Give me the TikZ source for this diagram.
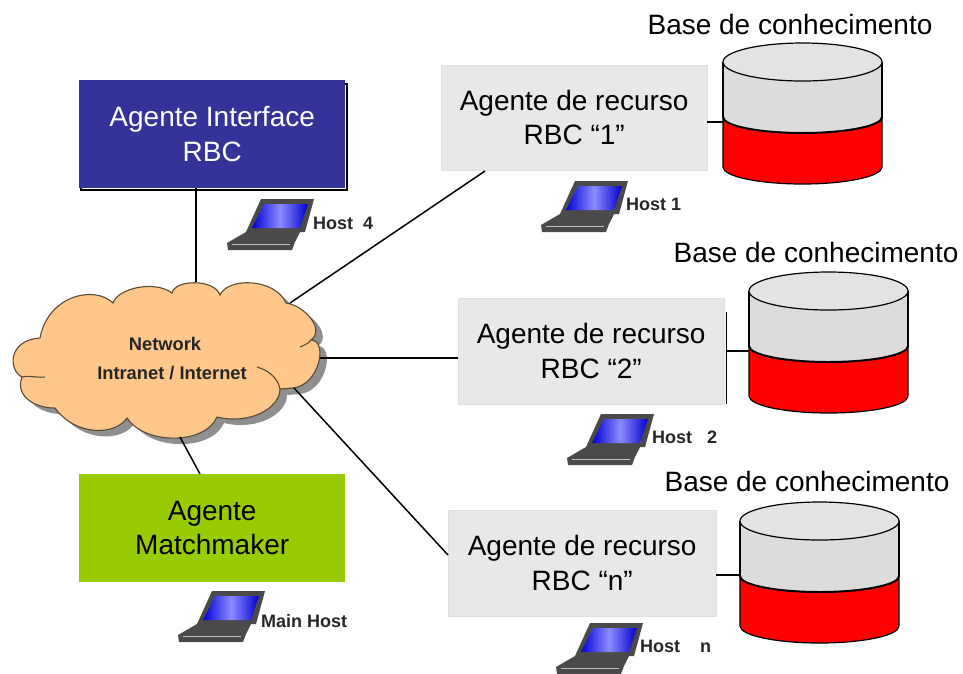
\documentclass[tikz,border=0pt]{standalone}
\usepackage{fontspec}
\setmainfont{Liberation Sans}

\definecolor{interfaceblue}{HTML}{333399}
\definecolor{matchgreen}{HTML}{99CC00}
\definecolor{agentgray}{HTML}{E8E8E8}
\definecolor{cloudorange}{HTML}{FFC78A}
\definecolor{cloudedge}{HTML}{5A4A38}
\definecolor{dbgray}{HTML}{DCDCDC}
\definecolor{dbtop}{HTML}{E3E3E3}
\definecolor{laptopdark}{HTML}{4A4A4A}

\newcommand{\cloudpath}{(40,338)
    .. controls (48,295) and (95,285) .. (113,303)
    .. controls (118,288) and (155,280) .. (172,293)
    .. controls (175,279) and (215,279) .. (220,295)
    .. controls (228,277) and (275,278) .. (286,303)
    .. controls (306,306) and (325,330) .. (311,340)
    .. controls (328,340) and (320,385) .. (293,388)
    -- (280,389)
    .. controls (280,408) and (250,425) .. (217,417)
    .. controls (205,445) and (145,445) .. (127,418)
    .. controls (115,436) and (75,436) .. (55,408)
    .. controls (33,408) and (15,395) .. (22,377)
    .. controls (8,370) and (8,340) .. (40,338) -- cycle}

\tikzset{
    agentbox/.style = {minimum width = 266pt, minimum height = 106pt, inner sep = 0pt, anchor = north west,
        align = center, font = \fontsize{28}{34.5}\selectfont},
    recursobox/.style = {agentbox, fill = agentgray, draw = gray!25},
    baselabel/.style = {font = \fontsize{28}{33}\selectfont},
    hostlabel/.style = {anchor = west, inner sep = 0pt, text = black!85, font = \fontsize{18}{20}\bfseries\selectfont},
    netlabel/.style = {text = black!85, font = \fontsize{18.3}{20}\bfseries\selectfont},
    link/.style = {line width = 1.5pt},
    laptop/.pic = {
        \fill [laptopdark] (41,29) -- (94,29) -- (85,62) -- (26,62) -- cycle;
        \shade [left color = blue!85!black, right color = blue!80!black, middle color = blue!45] (44,34) -- (88,34) -- (80,58) -- (32,58) -- cycle;
        \fill [laptopdark] (7,73) -- (26,62) -- (80,62) -- (75,72) -- (72,80) -- (8,80) -- cycle;
        \draw [black!70, line width = 0.8pt] (20,69) -- (72,69);
        \draw [gray!50, line width = 1pt] (12,74) -- (70,74);
    },
    database/.pic = {
        % Lower part first, upper part on top of it
        \draw [fill = red, line width = 1.2pt] (0,55) -- (0,105) arc [start angle = 180, end angle = 0, x radius = 79.5, y radius = 17] -- (159,55) -- cycle;
        \fill [dbgray] (0,0) rectangle (159,55);
        \fill [dbgray] (0,55) arc [start angle = 180, end angle = 0, x radius = 79.5, y radius = 16] -- cycle;
        \draw [line width = 1.2pt] (0,55) -- (0,0);
        \draw [line width = 1.2pt] (159,55) -- (159,0);
        \draw [line width = 2pt] (0,55) arc [start angle = 180, end angle = 0, x radius = 79.5, y radius = 16];
        \draw [fill = dbtop, line width = 1.2pt] (79.5,0) ellipse [x radius = 79.5, y radius = 19];
    }
}

\begin{document}
\begin{tikzpicture}[x = 1pt, y = -1pt]
    \useasboundingbox (0,0) rectangle (963,673);

    % Cloud with its shadow
    \fill [black!55, opacity = 0.8, shift = {(7,6)}] \cloudpath;
    \draw [fill = cloudorange, draw = cloudedge, line width = 1.1pt] \cloudpath;
    \draw [cloudedge, line width = 1.1pt] (22,377) .. controls (28,375) and (36,378) .. (45,377);
    \draw [cloudedge, line width = 1.1pt] (311,340) .. controls (309,343) and (305,345) .. (300,347);
    \draw [cloudedge, line width = 1.1pt] (257,367) .. controls (268,370) and (278,378) .. (280,389);
    \node [netlabel] (network) at (165,344) {Network};
    \node [netlabel] (intranet) at (172,373) {Intranet / Internet};

    % Points of the cloud where the links end
    \coordinate (CloudTop) at (196,282);
    \coordinate (CloudNE) at (290,303);
    \coordinate (CloudE) at (320,358);
    \coordinate (CloudSE) at (294,388);
    \coordinate (CloudS) at (180,437);

    % Agents
    \draw [link] (81,84) rectangle (347,190);
    \node [agentbox, fill = interfaceblue, text = white, minimum height = 108pt] (interface) at (79,80) {Agente Interface\\RBC};
    \node [agentbox, fill = matchgreen, minimum height = 108pt] (matchmaker) at (79,474) {Agente\\Matchmaker};
    \node [recursobox, minimum height = 105pt] (recurso1) at (441,65) {Agente de recurso\\RBC “1”};
    \draw [line width = 1pt] (726,312) -- (726,404);
    \node [recursobox] (recurso2) at (458,298) {Agente de recurso\\RBC “2”};
    \node [recursobox, minimum width = 268pt] (recurso3) at (448,510) {Agente de recurso\\RBC “n”};

    % Links to the cloud
    \coordinate (Recurso1Foot) at (485,171);
    \coordinate (Recurso3Side) at (448,555);
    \coordinate (MatchTop) at (200,474);
    \draw [link] (interface.south -| CloudTop) -- (CloudTop);
    \draw [link] (Recurso1Foot) -- (CloudNE);
    \draw [link] (recurso2.west |- CloudE) -- (CloudE);
    \draw [link] (Recurso3Side) -- (CloudSE);
    \draw [link] (MatchTop) -- (CloudS);

    % Knowledge bases
    \pic at (723,62) {database};
    \pic at (749,291) {database};
    \pic at (740,521) {database};
    \draw [link] (recurso1.east |- 0,122) -- (723,122);
    \draw [link] (726,351) -- (749,351);
    \draw [link] (recurso3.east |- 0,575) -- (740,575);
    \node [baselabel] (base1) at (790,24) {Base de conhecimento};
    \node [baselabel] (base2) at (816,252) {Base de conhecimento};
    \node [baselabel] (base3) at (807,481) {Base de conhecimento};

    % Hosts
    \pic at (220,170) {laptop};
    \node [hostlabel] (host4) at (313,223) {Host\ \ 4};
    \pic at (534,152) {laptop};
    \node [hostlabel] (host1) at (626,204) {Host 1};
    \pic at (560,385) {laptop};
    \node [hostlabel] (host2) at (652,437) {Host\ \ \ 2};
    \pic at (171,562) {laptop};
    \node [hostlabel] (mainhost) at (261,621) {Main Host};
    \pic at (549,594) {laptop};
    \node [hostlabel] (hostn) at (640,646) {Host\ \ \ \ n};
\end{tikzpicture}
\end{document}
